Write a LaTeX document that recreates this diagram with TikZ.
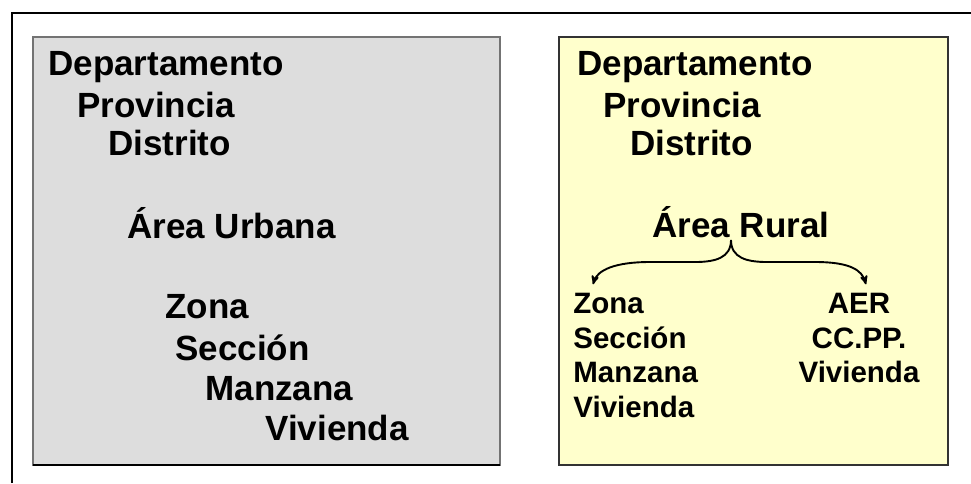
\documentclass[tikz,border=0pt]{standalone}
\usepackage{fontspec}
\setmainfont{Liberation Sans}
\usetikzlibrary{arrows,positioning}

\definecolor{urbanfill}{HTML}{DDDDDD}
\definecolor{ruralfill}{HTML}{FFFFCC}

\begin{document}
\begin{tikzpicture}[x=1pt,y=-1pt, >=stealth', thick,
	every node/.style={inner sep=0pt,anchor=base west,font=\bfseries\fontsize{35}{40}\selectfont},
	small/.style={font=\bfseries\fontsize{29.5}{35}\selectfont}]
				\useasboundingbox (0,0) rectangle (971,483);
				% frame and boxes
				\draw [line width=2pt] (12,483) -- (12,13) -- (971,13);
				\draw [fill=urbanfill,draw=black!55,line width=1.5pt] (33,37) rectangle (500,465);
				\draw [line width=1.5pt] (33,465) -- (500,465);
				\draw [fill=ruralfill,draw=black!80,line width=1.5pt] (559,37) rectangle (948,465);
				% area urbana
				\node (dep) at (48,75) {Departamento};
				\node (prov) at (77,117) {Provincia};
				\node (dist) at (108,155) {Distrito};
				\node (urb) at (127,238) {Área Urbana};
				\node (zona) at (165,318) {Zona};
				\node (secc) at (175,360) {Sección};
				\node (manz) at (205,400) {Manzana};
				\node (viv) at (265,440) {Vivienda};
				% area rural
				\node (depR) at (577,75) {Departamento};
				\node (provR) at (603,117) {Provincia};
				\node (distR) at (630,155) {Distrito};
				\node (rur) at (652,237) {Área Rural};
				\node [small] (zonaR) at (573,313) {Zona};
				\node [small] (seccR) at (573,348) {Sección};
				\node [small] (manzR) at (573,382) {Manzana};
				\node [small] (vivR) at (573,417) {Vivienda};
				\node [small,anchor=base] (aer) at (859,313) {AER};
				\node [small,anchor=base] (ccpp) at (859,348) {CC.PP.};
				\node [small,anchor=base] (vivA) at (859,382) {Vivienda};
				\coordinate (tip) at (731,240);
				\coordinate (endL) at ([xshift=20pt,yshift=8pt]zonaR.north west);
				\coordinate (endR) at ([xshift=7pt,yshift=8pt]aer.north);
				\draw [->,line width=1.9pt] (tip) .. controls (731,258) and (715,262) .. (695,262) -- (650,262) .. controls (615,262) and (597,270) .. (endL);
				\draw [->,line width=1.9pt] (tip) .. controls (731,258) and (747,262) .. (767,262) -- (815,262) .. controls (850,262) and (862,270) .. (endR);
			\end{tikzpicture}
\end{document}
